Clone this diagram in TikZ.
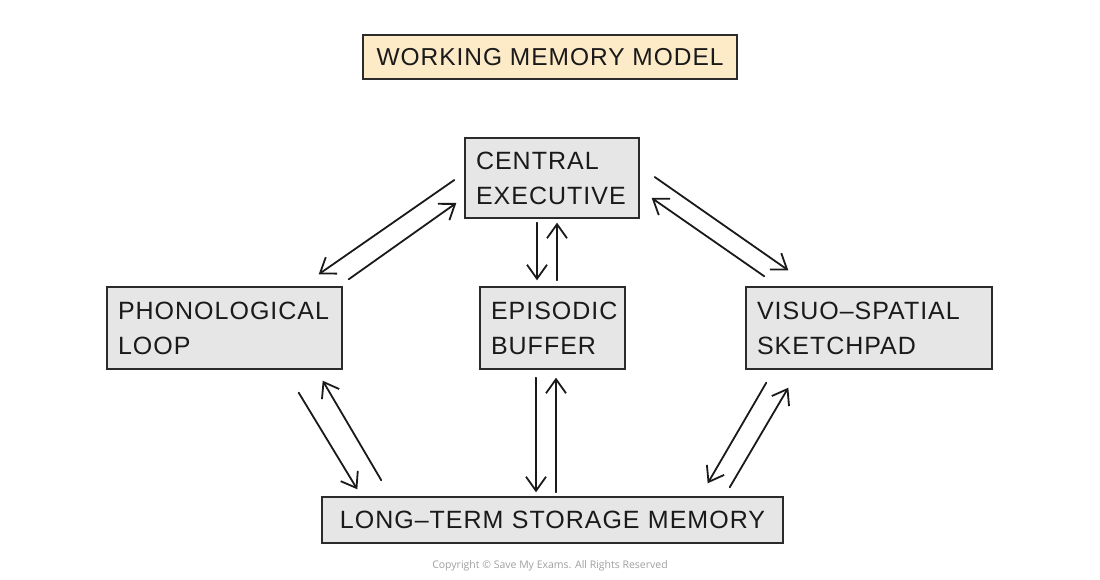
\documentclass[tikz,border=0pt]{standalone}
\usepackage{fontspec}
\setmainfont{Liberation Sans}
\newfontfamily\cpfont{Open Sans}
\newfontfamily\lblfont[LetterSpace=4]{Liberation Sans}
\usetikzlibrary{arrows.meta}
\definecolor{boxgray}{HTML}{E6E6E6}
\definecolor{titlefill}{HTML}{FDEBC8}
\definecolor{edgecol}{HTML}{2B2B2B}
\definecolor{txtcol}{HTML}{1A1A1A}
\definecolor{cpgray}{HTML}{A0A0A0}
\begin{document}
\begin{tikzpicture}[x=1pt,y=-1pt,
  box/.style={draw=edgecol, line width=1.4pt, fill=boxgray, inner xsep=11pt, inner ysep=0pt,
    align=left, text=txtcol, font=\lblfont\fontsize{25}{35}\selectfont},
  titlebox/.style={draw=edgecol, line width=1.4pt, fill=titlefill, inner sep=0pt,
    minimum width=374pt, minimum height=44pt, text=txtcol, font=\lblfont\fontsize{24.5}{30}\selectfont},
  arr/.style={line width=1.8pt, draw=txtcol, line cap=round, line join=round,
    -{Straight Barb[length=14pt,width=20pt,line width=1.8pt]}}
]
\useasboundingbox (0,0) rectangle (1100,580);
\fill[white] (0,0) rectangle (1100,580);

\node[titlebox] (title) at (550,57) {WORKING MEMORY MODEL};

\node[box, minimum width=174pt, minimum height=80pt, text width=152pt] (ce) at (552,178) {CENTRAL\\EXECUTIVE};
\node[box, minimum width=235pt, minimum height=82pt, text width=213pt] (pl) at (224.5,328) {PHONOLOGICAL\\LOOP};
\node[box, minimum width=145pt, minimum height=82pt, text width=123pt] (eb) at (552.5,328) {EPISODIC\\BUFFER};
\node[box, minimum width=246pt, minimum height=82pt, text width=224pt] (vs) at (869,328) {VISUO–SPATIAL\\SKETCHPAD};
\node[box, minimum width=461pt, minimum height=46pt, text width=439pt, align=center] (ltm) at (552.5,520) {LONG–TERM STORAGE MEMORY};

% CE <-> PL
\draw[arr] ([shift={(-10,2)}]ce.west) -- ([shift={(-24,-12)}]pl.north east);
\draw[arr] ([shift={(6,-7)}]pl.north east) -- ([shift={(-8,25)}]ce.west);
% CE <-> EB
\draw[arr] ([shift={(-15,4)}]ce.south) -- ([shift={(-15.5,-6)}]eb.north);
\draw[arr] ([shift={(4.5,-6)}]eb.north) -- ([shift={(5,4)}]ce.south);
% CE <-> VS
\draw[arr] ([shift={(15,-1)}]ce.east) -- ([shift={(43,-16)}]vs.north west);
\draw[arr] ([shift={(19,-10)}]vs.north west) -- ([shift={(12,20)}]ce.east);
% PL <-> LTM
\draw[arr] ([shift={(-44,23)}]pl.south east) -- ([shift={(36,-7)}]ltm.north west);
\draw[arr] ([shift={(60,-16)}]ltm.north west) -- ([shift={(-20,11)}]pl.south east);
% EB <-> LTM
\draw[arr] ([shift={(-16.5,8)}]eb.south) -- ([shift={(-16.5,-4)}]ltm.north);
\draw[arr] ([shift={(3.5,-4)}]ltm.north) -- ([shift={(3.5,8)}]eb.south);
% VS <-> LTM
\draw[arr] ([shift={(21,13)}]vs.south west) -- ([shift={(-76,-13)}]ltm.north east);
\draw[arr] ([shift={(-54,-9)}]ltm.north east) -- ([shift={(43,18)}]vs.south west);

\node[text=cpgray, font=\cpfont\fontsize{10.5}{12}\selectfont, inner sep=0pt] (copy) at (550,566) {Copyright \textcopyright{} Save My Exams. All Rights Reserved};
\end{tikzpicture}
\end{document}
